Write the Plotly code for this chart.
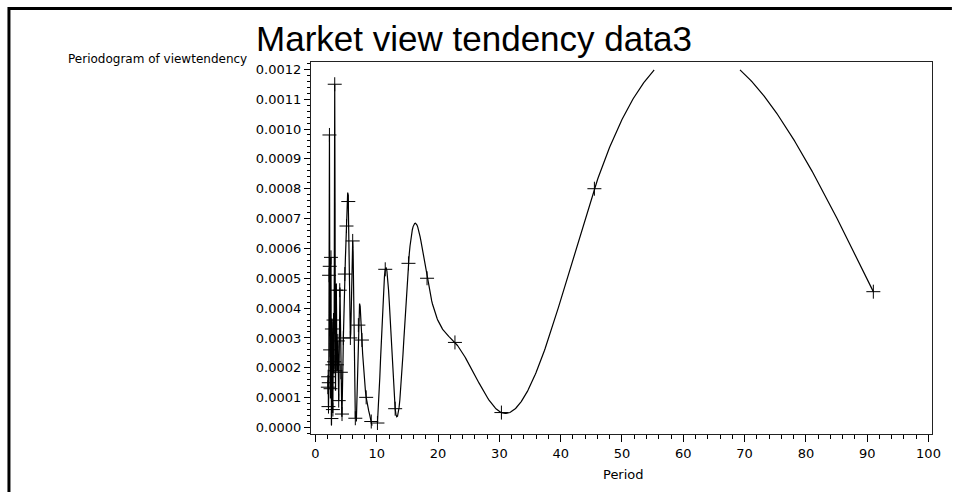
import numpy as np
import plotly.graph_objects as go

# ---- data (periodogram ordinates by period) ----
periods = [91.0, 45.5, 30.33, 22.75, 18.2, 15.17, 13.0, 11.38, 10.11, 9.1,
           8.27, 7.58, 7.0, 6.5, 6.07, 5.69, 5.35, 5.06, 4.79, 4.55,
           4.33, 4.14, 3.96, 3.79, 3.64, 3.5, 3.37, 3.25, 3.14, 3.03,
           2.94, 2.84, 2.76, 2.68, 2.6, 2.53, 2.46, 2.39, 2.33, 2.28,
           2.22, 2.17, 2.12, 2.07, 2.02]
periodogram = [0.000455, 0.0008, 0.00005, 0.000285, 0.0005, 0.00055, 0.000063, 0.00053, 0.000015, 0.00002,
               0.000101, 0.000293, 0.000343, 0.000031, 0.000625, 0.0003, 0.000757, 0.000675, 0.000514, 0.0003,
               0.000045, 0.000185, 0.00046, 0.00009, 0.00029, 0.00021, 0.00046, 0.00019, 0.00115, 0.00022,
               0.00036, 0.00006, 0.00021, 0.00033, 0.00003, 0.00057, 0.00013, 0.00026, 0.00054, 0.00098,
               0.00051, 0.00015, 0.00007, 0.00017, 0.000135]

x_ticks = [0, 10, 20, 30, 40, 50, 60, 70, 80, 90, 100]
y_ticks = [0.0, 0.0001, 0.0002, 0.0003, 0.0004, 0.0005, 0.0006, 0.0007, 0.0008, 0.0009, 0.0010, 0.0011, 0.0012]

title_text = "Market view tendency data3"
y_title = "Periodogram of viewtendency"
x_title = "Period"

# ---- line rendering: natural cubic spline through the points (as SAS I=SPLINE draws it) ----
xs = np.array(periods, dtype=float)
ys = np.array(periodogram, dtype=float)
order = np.argsort(xs)
xs, ys = xs[order], ys[order]
n = len(xs)
h = np.diff(xs)
A = np.zeros((n, n))
rhs = np.zeros(n)
A[0, 0] = 1.0
A[-1, -1] = 1.0
for i in range(1, n - 1):
    A[i, i - 1] = h[i - 1]
    A[i, i] = 2 * (h[i - 1] + h[i])
    A[i, i + 1] = h[i]
    rhs[i] = 6 * ((ys[i + 1] - ys[i]) / h[i] - (ys[i] - ys[i - 1]) / h[i - 1])
M = np.linalg.solve(A, rhs)

cx, cy = [], []
for i in range(n - 1):
    m = max(6, int(h[i] * 8))
    t = np.linspace(xs[i], xs[i + 1], m, endpoint=False)
    a = xs[i + 1] - t
    b = t - xs[i]
    s = (M[i] * a ** 3 / (6 * h[i]) + M[i + 1] * b ** 3 / (6 * h[i])
         + (ys[i] / h[i] - M[i] * h[i] / 6) * a + (ys[i + 1] / h[i] - M[i + 1] * h[i] / 6) * b)
    cx.extend(t.tolist())
    cy.extend(s.tolist())
cx.append(xs[-1])
cy.append(ys[-1])
cy = [v if 0 <= v <= y_ticks[-1] else None for v in cy]

fig = go.Figure()
fig.add_trace(go.Scatter(x=cx, y=cy, mode="lines", line=dict(color="black", width=1.2),
                         connectgaps=False, hoverinfo="skip", showlegend=False))
fig.add_trace(go.Scatter(x=periods, y=periodogram, mode="markers",
                         marker=dict(symbol="cross-thin", size=10, line=dict(width=1, color="black")),
                         showlegend=False))

# geometry (pixels)
L, R, T, B = 311, 18, 62, 58
W, H = 953, 492
pw, ph = W - L - R, H - T - B

def px(xp):
    return (xp - L) / pw

def py(yp):
    return (H - B - yp) / ph

small = dict(family="DejaVu Sans", size=13, color="black")

fig.update_layout(
    width=W, height=H,
    margin=dict(l=L, r=R, t=T, b=B, pad=0),
    paper_bgcolor="white", plot_bgcolor="white",
    title=dict(text=title_text, x=474 / W, xanchor="center", xref="container",
               y=1 - 39 / H, yanchor="middle", yref="container",
               font=dict(family="Liberation Sans, Arial", size=35, color="black")),
    xaxis=dict(range=[-0.73, 100.57], tickvals=x_ticks, ticktext=[str(v) for v in x_ticks],
               showgrid=False, zeroline=False, showline=True, linecolor="#222", linewidth=1.2, mirror=True,
               ticks="outside", ticklen=7, tickcolor="black", tickfont=small,
               minor=dict(dtick=2, tick0=0, ticks="outside", ticklen=4, tickcolor="black")),
    yaxis=dict(range=[-0.0000218, 0.0012245], tickvals=y_ticks, ticktext=[f"{v:.4f}" for v in y_ticks],
               showgrid=False, zeroline=False, showline=True, linecolor="#222", linewidth=1.2, mirror=True,
               ticks="outside", ticklen=6, tickcolor="black", tickfont=small,
               minor=dict(dtick=0.00002, tick0=0, ticks="outside", ticklen=3, tickcolor="black")),
    annotations=[
        dict(text=y_title, x=px(157), y=py(59), xref="paper", yref="paper",
             xanchor="center", yanchor="middle", showarrow=False,
             font=dict(family="DejaVu Sans", size=12, color="black")),
        dict(text=x_title, x=px(625), y=py(475), xref="paper", yref="paper",
             xanchor="center", yanchor="middle", showarrow=False, font=small),
    ],
    shapes=[dict(type="path", xref="paper", yref="paper",
                 path=f"M {px(7.5)} {py(495)} L {px(7.5)} {py(8.5)} L {px(955)} {py(8.5)}",
                 line=dict(color="black", width=3))],
)

fig.write_html("out.html", config={"displayModeBar": False},
               post_script="document.body.style.margin='0px';document.body.style.overflow='hidden';")
